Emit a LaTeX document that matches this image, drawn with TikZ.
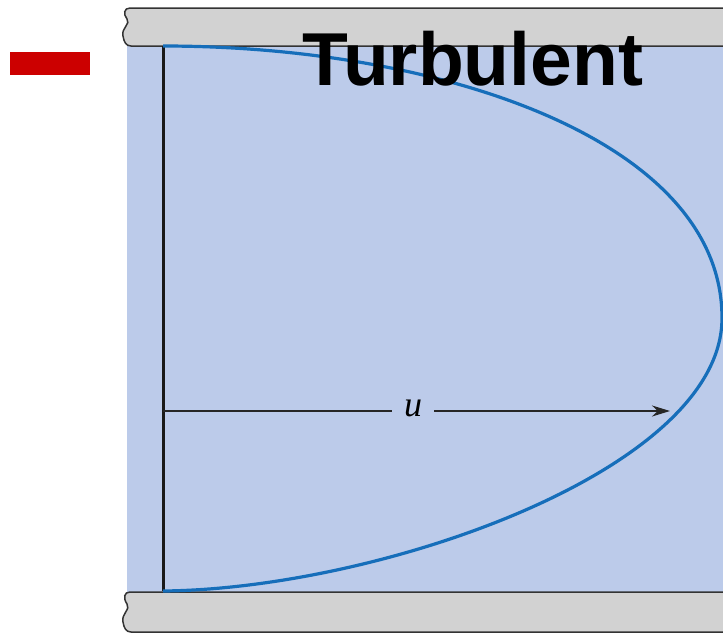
\documentclass[tikz,border=0pt]{standalone}
\usepackage{fontspec}
\newfontfamily\titlefont{Liberation Sans}
\newfontfamily\ufont{Liberation Serif}
\usetikzlibrary{arrows.meta}

\definecolor{fluid}{RGB}{188,203,234}
\definecolor{wall}{RGB}{210,210,210}
\definecolor{profil}{RGB}{22,110,186}
\definecolor{marke}{RGB}{204,0,0}

\tikzset{
  wand/.style={fill=wall, draw=black!80, line width=1.5pt},
  pfeil/.style={draw=black!85, line width=2.2pt, -{Stealth[length=18pt,width=11pt]}},
}

\begin{document}
\begin{tikzpicture}[x=1pt, y=-1pt]
\useasboundingbox (0,0) rectangle (723,633);

		%Fluid
		\fill[fluid] (127,46) rectangle (723,592);

		%obere Wand
		\draw[wand] (723,8) -- (130,8) .. controls (124,8) and (123,14) .. (127,19)
			.. controls (131,24) and (121,28) .. (123,36) .. controls (124,42) and (126,46) .. (131,46) -- (723,46);
		%untere Wand
		\draw[wand] (723,592) -- (130,592) .. controls (124,592) and (123,598) .. (127,604)
			.. controls (131,609) and (121,614) .. (123,622) .. controls (124,628) and (126,632) .. (131,632) -- (723,632);

		%Marke links
		\fill[marke] (10,52) rectangle (90,75);

		%senkrechte Linie
		\draw[black!90, line width=3pt] (163,46) -- (163,591);

		%Geschwindigkeitsprofil
		\draw[profil, line width=3.2pt] (163,46) .. controls (440,46) and (722,140) .. (722,318)
			.. controls (722,470) and (380,589) .. (163,591);

		%Pfeil u
		\coordinate (start) at (163,411);
		\coordinate (spitze) at (670,411);
		\node[fill=fluid, inner xsep=12pt, inner ysep=4pt, font=\ufont\itshape\fontsize{36}{38}\selectfont] (ulabel) at (413,408) {u};
		\draw[draw=black!85, line width=2.2pt] (start) -- (start -| ulabel.west);
		\draw[pfeil] (spitze -| ulabel.east) -- (spitze);

		%Titel
		\node[font=\titlefont\bfseries\fontsize{75}{80}\selectfont, inner sep=0pt, anchor=base] (titel) at (473,85) {Turbulent};

\end{tikzpicture}
\end{document}
